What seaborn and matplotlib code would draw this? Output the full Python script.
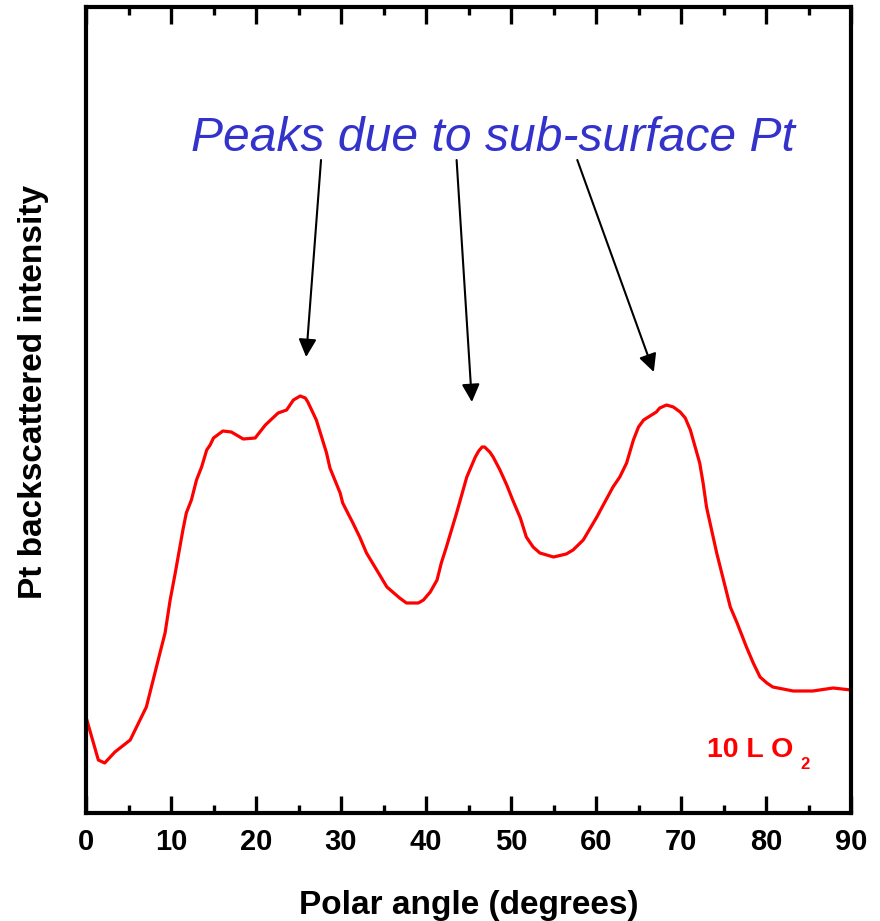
import matplotlib
matplotlib.use("Agg")
import matplotlib.pyplot as plt
import seaborn as sns
import pandas as pd

# Pt backscattered intensity vs polar angle (arbitrary units)
polar_angle = [0, 1.45, 2.2, 3.4, 5.2, 7.1, 7.9, 8.7, 9.3, 9.9, 10.5, 11.4, 11.8,
               12.4, 13.0, 13.6, 14.2, 14.6, 15.0, 16.1, 17.1, 18.5, 19.9, 21.1,
               22.6, 23.6, 24.4, 25.2, 25.8, 26.1, 27.1, 28.3, 28.7, 29.9, 30.2,
               31.4, 32.2, 33.0, 34.2, 35.4, 36.9, 37.7, 38.5, 39.1, 39.7, 40.5,
               41.3, 41.8, 42.4, 43.0, 43.6, 44.2, 44.8, 45.8, 46.2, 46.6, 46.9,
               47.5, 47.9, 48.7, 49.5, 50.2, 51.1, 51.8, 52.6, 53.4, 55.0, 56.5,
               57.3, 58.5, 60.1, 60.6, 62.0, 62.8, 63.6, 64.4, 65.0, 65.6, 67.1,
               67.5, 68.3, 69.1, 69.9, 70.5, 71.1, 72.2, 72.6, 73.0, 73.6, 74.2,
               75.0, 75.8, 76.6, 77.7, 78.5, 79.3, 80.1, 80.8, 83.2, 85.5, 87.9,
               90.0]
intensity = [96, 53, 50, 61, 73, 106, 133, 160, 180, 213, 240, 283, 300,
             313, 333, 346, 363, 368, 375, 382, 381, 374, 375, 388,
             400, 403, 413, 417, 415, 411, 393, 360, 345, 320, 310,
             290, 276, 260, 243, 226, 215, 210, 210, 210, 213, 221,
             233, 250, 266, 283, 300, 318, 336, 356, 362, 366, 366,
             361, 356, 343, 328, 313, 295, 276, 266, 260, 256, 259,
             263, 273, 296, 304, 326, 336, 350, 373, 386, 393, 401,
             405, 408, 406, 401, 395, 383, 350, 330, 306, 283, 260,
             233, 206, 190, 166, 150, 136, 130, 126, 122, 122, 125,
             123]

# arrows: (start of arrow under the caption, tip near each sub-surface peak)
arrow_start = [(27.65, 653), (43.6, 653), (57.8, 653)]
arrow_tip = [(25.9, 456), (45.4, 411), (66.8, 441)]

x_ticks = [0, 10, 20, 30, 40, 50, 60, 70, 80, 90]
x_minor = [5, 15, 25, 35, 45, 55, 65, 75, 85]
caption = "Peaks due to sub-surface Pt"

df = pd.DataFrame({"angle": polar_angle, "intensity": intensity})

sns.set_style("ticks")
plt.rcParams["font.family"] = ["Liberation Sans", "DejaVu Sans"]
plt.rcParams["text.color"] = "black"
plt.rcParams["axes.labelcolor"] = "black"

fig = plt.figure(figsize=(8.8, 9.21), dpi=100)
ax = fig.add_axes([86 / 880, (921 - 813) / 921, 765 / 880, 806 / 921])

sns.lineplot(data=df, x="angle", y="intensity", color="#ff0000", linewidth=2.3,
             ax=ax, solid_joinstyle="round", solid_capstyle="round")

ax.set_xlim(0, 90)
ax.set_ylim(0, 806)

for side in ["left", "right", "top", "bottom"]:
    ax.spines[side].set_linewidth(3)
    ax.spines[side].set_color("black")

ax.set_xticks(x_ticks)
ax.set_xticks(x_minor, minor=True)
ax.tick_params(axis="x", which="major", direction="in", length=12, width=2.4,
               top=True, bottom=True, labelsize=21, pad=11, colors="black")
ax.tick_params(axis="x", which="minor", direction="in", length=6, width=2.4,
               top=True, bottom=True, colors="black")
for lbl in ax.get_xticklabels():
    lbl.set_fontweight("bold")
ax.set_yticks([])

ax.set_xlabel("Polar angle (degrees)", fontsize=24, fontweight="bold", color="black")
ax.xaxis.set_label_coords(0.5, -0.095)
ax.set_ylabel("Pt backscattered intensity", fontsize=24, fontweight="bold", color="black")
ax.yaxis.set_label_coords(-0.048, 0.522)

ax.text(47.9, 662, caption, ha="center", va="baseline", fontsize=34.6,
        style="italic", color="#3333cc")

for s, t in zip(arrow_start, arrow_tip):
    ax.annotate("", xy=t, xytext=s,
                arrowprops=dict(arrowstyle="-|>", color="black", lw=1.5,
                                mutation_scale=27, shrinkA=0, shrinkB=0))

ax.text(73.0, 56, "10 L O", ha="left", va="baseline", fontsize=20.5,
        fontweight="bold", color="#ff0000")
ax.text(84.0, 44, "2", ha="left", va="baseline", fontsize=12,
        fontweight="bold", color="#ff0000")

fig.savefig("out.png", dpi=100, facecolor="white")
